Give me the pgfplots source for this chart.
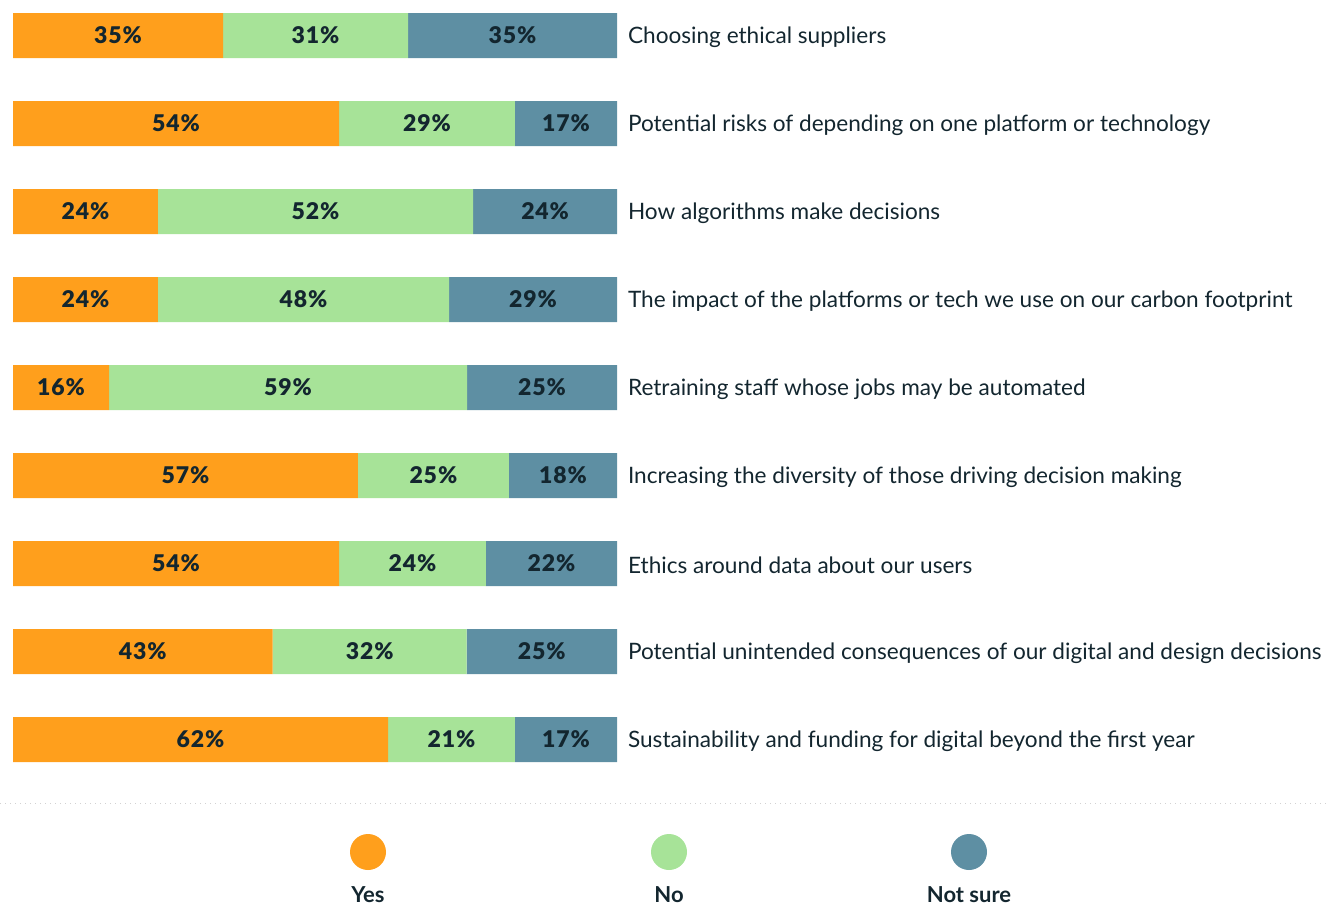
\documentclass[border=0pt]{standalone}
\usepackage{pgfplots}
\pgfplotsset{compat=1.18}
\usepackage{pgfplotstable}
\usepackage{fontspec}
\setmainfont{Lato}
\newfontfamily\pct[LetterSpace=4,BoldFont={Lato Black}]{Lato}
\definecolor{cyes}{HTML}{FF9F1C}
\definecolor{cno}{HTML}{A7E398}
\definecolor{cns}{HTML}{5E8FA3}
\definecolor{ctext}{HTML}{13262F}
\pgfplotstableread{
row yes no ns ly ln lns
1 34.8 30.6 34.6 35 31 35
2 54.0 29.1 16.9 54 29 17
3 24.0 52.2 23.8 24 52 24
4 24.0 48.2 27.8 24 48 29
5 15.9 59.3 24.8 16 59 25
6 57.1 25.0 17.9 57 25 18
7 54.0 24.3 21.7 54 24 22
8 43.0 32.1 24.9 43 32 25
9 62.1 21.0 16.9 62 21 17
}\datatable
\begin{document}
\begin{tikzpicture}
\pgfplotsset{
  common/.style={
    scale only axis, width=302pt, height=396pt,
    xmin=0, xmax=100, ymin=0.5, ymax=9.5, y dir=reverse,
    at={(6.5pt,4.2pt)}, anchor=north west, clip=false,
  }
}
\begin{axis}[common,
  xbar stacked, bar width=22.5pt,
  axis line style={draw=none}, tick style={draw=none},
  xtick=\empty, ytick={1,...,9},
  yticklabel pos=right,
  yticklabels={Choosing ethical suppliers,
    Potential risks of depending on one platform or technology,
    How algorithms make decisions,
    The impact of the platforms or tech we use on our carbon footprint,
    Retraining staff whose jobs may be automated,
    Increasing the diversity of those driving decision making,
    Ethics around data about our users,
    Potential unintended consequences of our digital and design decisions,
    Sustainability and funding for digital beyond the first year},
  yticklabel style={anchor=west, font=\fontsize{11.3}{13}\selectfont, text=ctext, xshift=2pt, yshift=-1pt},
]
\addplot[fill=cyes, draw=none] table[x=yes, y=row] {\datatable};
\addplot[fill=cno, draw=none] table[x=no, y=row] {\datatable};
\addplot[fill=cns, draw=none] table[x=ns, y=row] {\datatable};
\end{axis}
\begin{axis}[common, hide axis]
\pgfplotsset{every node near coord/.style={font=\pct\fontsize{11.5}{13}\bfseries, text=ctext, anchor=center}}
\addplot[draw=none, mark=none, nodes near coords={\pgfplotspointmeta\%}, nodes near coords align=center, point meta=explicit symbolic]
  table[x expr=\thisrow{yes}/2, y=row, meta=ly] {\datatable};
\addplot[draw=none, mark=none, nodes near coords={\pgfplotspointmeta\%}, nodes near coords align=center, point meta=explicit symbolic]
  table[x expr=\thisrow{yes}+\thisrow{no}/2, y=row, meta=ln] {\datatable};
\addplot[draw=none, mark=none, nodes near coords={\pgfplotspointmeta\%}, nodes near coords align=center, point meta=explicit symbolic]
  table[x expr=\thisrow{yes}+\thisrow{no}+\thisrow{ns}/2, y=row, meta=lns] {\datatable};
\end{axis}
% separator and legend
\draw[gray!35, dotted, line width=0.5pt] (0,-401.5pt) -- (665pt,-401.5pt);
\fill[cyes] (184pt,-426pt) circle (9pt);
\fill[cno] (334.5pt,-426pt) circle (9pt);
\fill[cns] (484.5pt,-426pt) circle (9pt);
\node[font=\fontsize{11}{13}\bfseries, text=ctext] at (184pt,-447.3pt) {Yes};
\node[font=\fontsize{11}{13}\bfseries, text=ctext] at (334.5pt,-447.3pt) {No};
\node[font=\fontsize{11}{13}\bfseries, text=ctext] at (484.5pt,-447.3pt) {Not sure};
\pgfresetboundingbox
\useasboundingbox (0,0) rectangle (665pt,-452.5pt);
\end{tikzpicture}
\end{document}
